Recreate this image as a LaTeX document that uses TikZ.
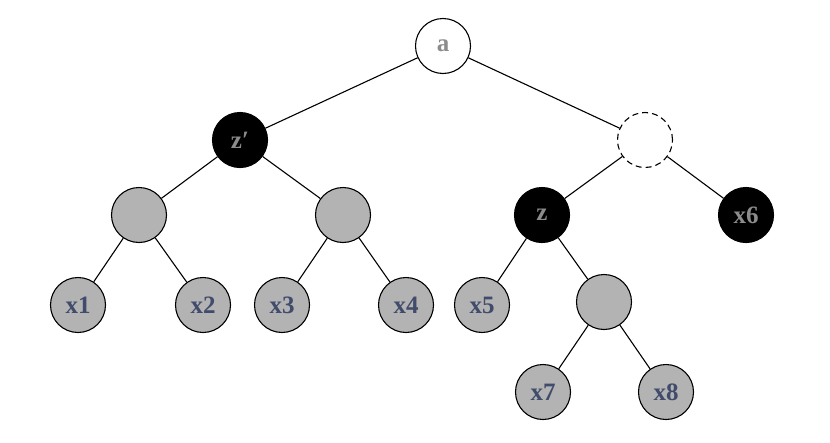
\documentclass[tikz,border=0pt]{standalone}
\usepackage{fontspec}
\setmainfont{Liberation Serif}
\definecolor{labgray}{HTML}{8C8C8C}
\definecolor{labblue}{HTML}{414B6B}
\definecolor{fillgray}{HTML}{B3B3B3}
\begin{document}
\begin{tikzpicture}[x=1pt,y=-1pt,
  vert/.style={circle,draw=black,line width=1.1pt,minimum size=55pt,inner sep=0pt,
    font=\fontsize{25}{28}\selectfont\bfseries},
  whitev/.style={vert,fill=white,text=labgray},
  blackv/.style={vert,fill=black,text=labgray},
  grayv/.style={vert,fill=fillgray,text=labblue},
  dashv/.style={vert,fill=white,dashed,dash pattern=on 6pt off 4pt},
  edge/.style={line width=1.1pt}]
\useasboundingbox (0,0) rectangle (830,442);
\node[whitev] (a) at (443,46) {a};
\node[blackv] (zp) at (240,140) {z′};
\node[dashv] (d) at (645,140) {};
\node[grayv] (g1) at (139,215) {};
\node[grayv] (g2) at (343,215) {};
\node[blackv] (z) at (542,215) {z};
\node[blackv] (x6) at (746,215) {x6};
\node[grayv] (x1) at (78,305) {x1};
\node[grayv] (x2) at (203,305) {x2};
\node[grayv] (x3) at (282,305) {x3};
\node[grayv] (x4) at (406,305) {x4};
\node[grayv] (x5) at (482,305) {x5};
\node[grayv] (g3) at (604,302) {};
\node[grayv] (x7) at (543,392) {x7};
\node[grayv] (x8) at (666,392) {x8};
\draw[edge] (a) -- (zp);
\draw[edge] (a) -- (d);
\draw[edge] (zp) -- (g1);
\draw[edge] (zp) -- (g2);
\draw[edge] (g1) -- (x1);
\draw[edge] (g1) -- (x2);
\draw[edge] (g2) -- (x3);
\draw[edge] (g2) -- (x4);
\draw[edge] (d) -- (z);
\draw[edge] (d) -- (x6);
\draw[edge] (z) -- (x5);
\draw[edge] (z) -- (g3);
\draw[edge] (g3) -- (x7);
\draw[edge] (g3) -- (x8);
\end{tikzpicture}
\end{document}
